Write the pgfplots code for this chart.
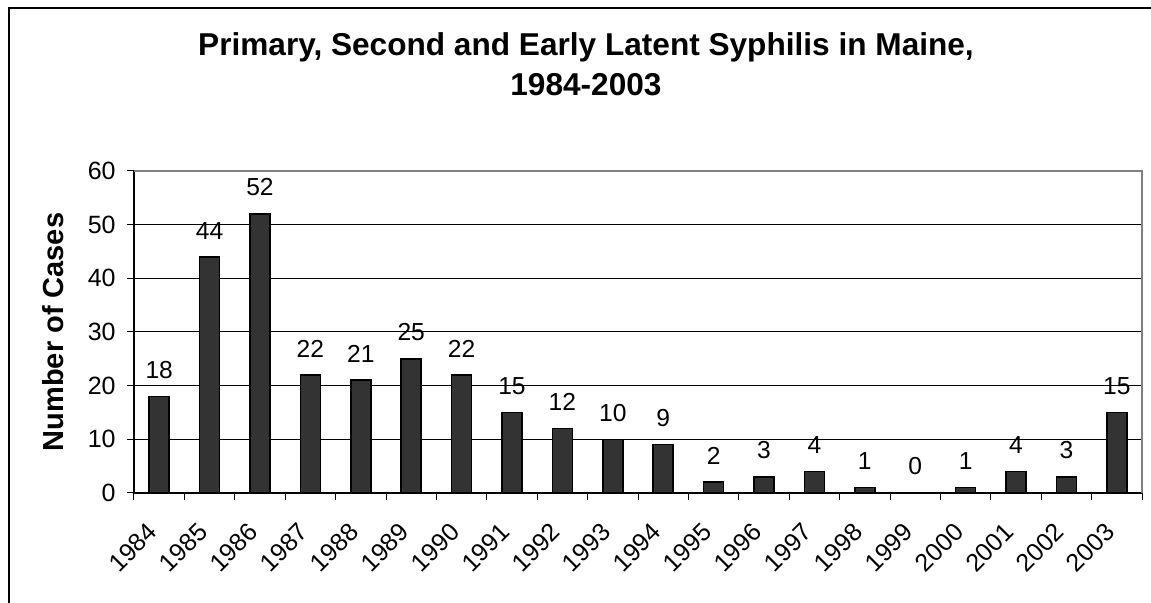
\documentclass[border=0pt]{standalone}
\usepackage{pgfplots}
\pgfplotsset{compat=1.18}
\usepackage{fontspec}
\setmainfont{Liberation Sans}
\definecolor{barfill}{HTML}{333333}
\definecolor{frameg}{HTML}{808080}
\begin{document}
\begin{tikzpicture}
\useasboundingbox (0,0) rectangle (575.5pt,301.5pt);
\draw[line width=0.75pt] (4.5pt,0) -- (4.5pt,297.4pt) -- (575.5pt,297.4pt);
\begin{axis}[
  at={(67pt,55pt)}, anchor=south west,
  scale only axis, width=504pt, height=161pt,
  xmin=-0.5, xmax=19.5, ymin=0, ymax=60,
  ytick={0,10,...,60},
  xtick={0,...,19},
  xticklabels={1984,1985,1986,1987,1988,1989,1990,1991,1992,1993,1994,1995,1996,1997,1998,1999,2000,2001,2002,2003},
  minor xtick={-0.5,0.5,...,19.5},
  major x tick style={draw=none},
  tick align=outside,
  major tick length=3.5pt, minor tick length=3.5pt,
  tick style={black, line width=0.5pt},
  axis x line*=bottom, axis y line*=left,
  axis line style={black, line width=0.6pt},
  ymajorgrids, major grid style={black, line width=0.5pt},
  /pgf/number format/assume math mode=true,
  ticklabel style={font=\fontsize{12.5}{14}\selectfont},
  yticklabel style={anchor=east, inner sep=0pt, xshift=-5.5pt},
  xticklabel style={xshift=-6.5pt, yshift=-10.5pt, rotate=45, anchor=north east, inner sep=0pt},
  ylabel={Number of Cases},
  ylabel style={at={(axis description cs:-0.0704,0.5)}, anchor=base, rotate=0, inner sep=0pt, font=\bfseries\fontsize{14.5}{17}\selectfont},
  title={Primary, Second and Early Latent Syphilis in Maine,\\1984-2003},
  title style={at={(axis description cs:0.4484,1.1957)}, anchor=base, align=center, inner sep=0pt, font=\bfseries\fontsize{15.8}{20}\selectfont},
  ybar, bar width=10pt,
  nodes near coords,
  every node near coord/.append style={font=\fontsize{12.3}{14}\selectfont, inner sep=0pt, anchor=south, yshift=8.5pt},
  after end axis/.code={\draw[frameg, line width=1pt] (rel axis cs:0,1) -- (rel axis cs:1,1) -- (rel axis cs:1,0);},
]
\addplot[fill=barfill, draw=black, line width=0.8pt] coordinates {
(0,18) (1,44) (2,52) (3,22) (4,21) (5,25) (6,22) (7,15) (8,12) (9,10)
(10,9) (11,2) (12,3) (13,4) (14,1) (15,0) (16,1) (17,4) (18,3) (19,15)};
\end{axis}
\end{tikzpicture}
\end{document}
